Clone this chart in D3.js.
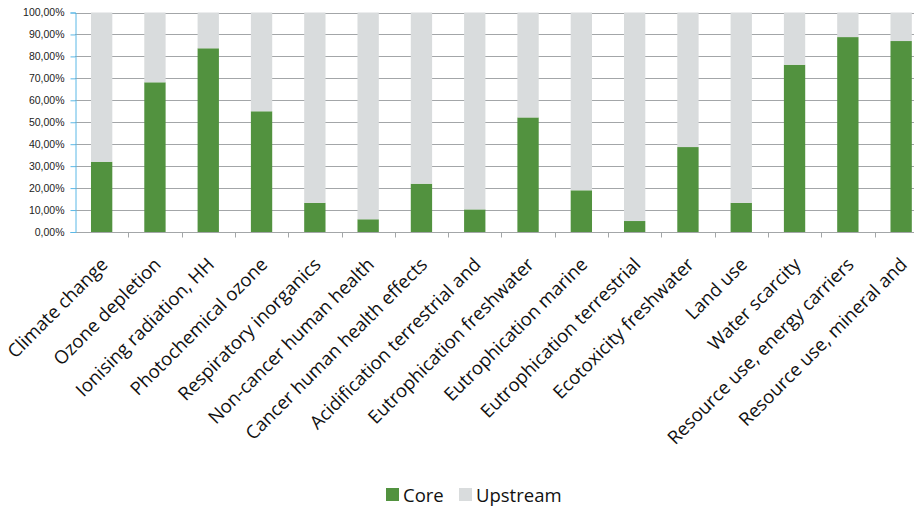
<!DOCTYPE html>
<html>
<head>
<meta charset="utf-8">
<script src="https://cdn.jsdelivr.net/npm/d3@7"></script>
<style>
  html, body { margin: 0; padding: 0; background: #fff; }
  svg { display: block; font-family: "Open Sans", "Noto Sans", sans-serif; }
</style>
</head>
<body>
<svg id="chart" width="914" height="508"></svg>
<script>
// Impact categories along the x axis
const categories = [
  "Climate change",
  "Ozone depletion",
  "Ionising radiation, HH",
  "Photochemical ozone",
  "Respiratory inorganics",
  "Non-cancer human health",
  "Cancer human health effects",
  "Acidification terrestrial and",
  "Eutrophication freshwater",
  "Eutrophication marine",
  "Eutrophication terrestrial",
  "Ecotoxicity freshwater",
  "Land use",
  "Water scarcity",
  "Resource use, energy carriers",
  "Resource use, mineral and"
];

// Share of the impact from the core stage (%), upstream is the remainder
const coreShare = [32.0, 68.2, 83.7, 55.0, 13.3, 5.8, 22.0, 10.3, 52.2, 19.0, 5.0, 38.7, 13.3, 76.2, 88.8, 87.0];
const upstreamShare = coreShare.map(v => 100 - v);

const seriesNames = ["Core", "Upstream"];
const seriesColors = ["#52923f", "#d9dcdd"];
const yTicks = [0, 10, 20, 30, 40, 50, 60, 70, 80, 90, 100];

const svg = d3.select("#chart");
const margin = { left: 75, top: 12.5, bottom: 276 };
const plotH = 508 - margin.top - margin.bottom;
const bandStep = 53.3;

const x = d3.scaleBand()
  .domain(categories)
  .range([margin.left, margin.left + bandStep * categories.length])
  .paddingInner(0.6)
  .paddingOuter(0.3);

const y = d3.scaleLinear().domain([0, 100]).range([margin.top + plotH, margin.top]);

const fmt = v => v.toFixed(2).replace(".", ",") + "%";

// Horizontal gridlines
svg.append("g")
  .selectAll("line")
  .data(yTicks.filter(t => t > 0))
  .join("line")
  .attr("x1", margin.left)
  .attr("x2", 914)
  .attr("y1", d => Math.round(y(d)) + 0.5)
  .attr("y2", d => Math.round(y(d)) + 0.5)
  .attr("stroke", "#a3a6a8")
  .attr("stroke-width", 1);

// Stacked bars
const rows = categories.map((c, i) => ({ cat: c, Core: coreShare[i], Upstream: upstreamShare[i] }));
const stacked = d3.stack().keys(seriesNames)(rows);

svg.append("g")
  .selectAll("g")
  .data(stacked)
  .join("g")
  .attr("fill", (d, i) => seriesColors[i])
  .selectAll("rect")
  .data(d => d)
  .join("rect")
  .attr("x", d => x(d.data.cat))
  .attr("width", x.bandwidth())
  .attr("y", d => y(d[1]))
  .attr("height", d => y(d[0]) - y(d[1]));

// Category axis
const xAxis = svg.append("g")
  .attr("transform", `translate(0,${Math.round(y(0)) + 0.5})`);
xAxis.append("line")
  .attr("x1", margin.left).attr("x2", 914)
  .attr("stroke", "#a3a6a8");
const xTickPos = d3.range(categories.length + 1).map(i => margin.left + bandStep * i);
xAxis.selectAll("line.tick")
  .data(xTickPos.slice(1))
  .join("line")
  .attr("class", "tick")
  .attr("x1", d => Math.round(d) + 0.5)
  .attr("x2", d => Math.round(d) + 0.5)
  .attr("y1", 0).attr("y2", 5)
  .attr("stroke", "#a3a6a8");

xAxis.selectAll("text")
  .data(categories)
  .join("text")
  .attr("transform", d => `translate(${x(d) + x.bandwidth() / 2 - 2},${24}) rotate(-45)`)
  .attr("text-anchor", "end")
  .attr("dy", "0.7em")
  .attr("font-size", 18.5)
  .attr("fill", "#111")
  .text(d => d);

// Value axis
const yAxis = svg.append("g")
  .attr("transform", `translate(${margin.left + 0.5},0)`)
  .call(d3.axisLeft(y).tickValues(yTicks).tickFormat(fmt).tickSize(5).tickPadding(6));
yAxis.select(".domain").attr("stroke", "#5bb8e6");
yAxis.selectAll(".tick line").attr("stroke", "#5bb8e6");
yAxis.selectAll(".tick text")
  .attr("font-size", 10.5)
  .attr("fill", "#222");

// Legend
const legend = svg.append("g").attr("transform", "translate(386,488)");
const legendX = [0, 73];
seriesNames.forEach((name, i) => {
  const g = legend.append("g").attr("transform", `translate(${legendX[i]},0)`);
  g.append("rect").attr("width", 13).attr("height", 13).attr("fill", seriesColors[i]);
  g.append("text")
    .attr("x", 17).attr("y", 14)
    .attr("font-size", 18.5)
    .attr("fill", "#111")
    .text(name);
});
</script>
</body>
</html>
